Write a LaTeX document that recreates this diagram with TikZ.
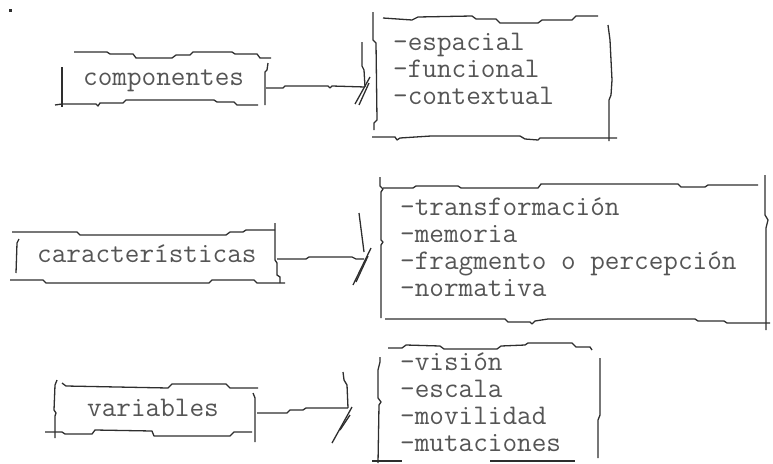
\documentclass[tikz,border=0pt]{standalone}
\usepackage{fontspec}
\definecolor{inkgray}{HTML}{2E2E2E}
\definecolor{txtgray}{HTML}{555555}

\begin{document}
\begin{tikzpicture}[
  x=1pt, y=-1pt,
  sketch/.style={inkgray, line width=1.3pt, line join=round},
  boxtext/.style={font=\ttfamily\fontsize{28.4}{27}\selectfont, text=txtgray,
    anchor=base west, inner sep=0pt},
]

% Canvas
\useasboundingbox (0,0) rectangle (773,463);
\fill[inkgray] (9,9) rectangle (12,12);

% ========================================
% Row 1: componentes
% ========================================
\node[boxtext] (comp) at (83,85) {componentes};

% Box
\draw[sketch] (74,52) -- (107,52) -- (110,54) -- (133,54) -- (136,58) -- (172,58)
  -- (176,55) -- (190,55) -- (193,52) -- (232,52) -- (235,54) -- (257,54)
  -- (260,58) -- (271,58);
\draw[sketch] (62,67) -- (62,107);
\draw[sketch] (268,63) -- (267,70) -- (265,72) -- (265,105);
\draw[sketch] (55,105) -- (62,104) -- (96,104) -- (98,106) -- (100,103) -- (123,103)
  -- (126,100) -- (214,100) -- (217,102) -- (234,102) -- (237,105) -- (258,105);

% Connector
\coordinate (comp-out) at (266,88);
\coordinate (comp-in) at (365,87);
\draw[sketch] (comp-out) -- ++(17,0) -- ++(2,-2) -- ++(43,0) -- ++(2,2) -- ++(2,-2)
  -- (comp-in);
\draw[sketch] (362,42) -- (362,66) -- (364,70) -- (comp-in);
\draw[sketch] (355,104) -- (370,77);
\draw[sketch] (359,105) -- (369,83);

% List box
\foreach \t [count=\i] in {-espacial, -funcional, -contextual}
  \node[boxtext] (comp-\i) at (393,{23+27*\i}) {\t};
\draw[sketch] (373,12) -- (373,40) -- (376,43) -- (377,120) -- (374,123) -- (374,130);
\draw[sketch] (383,18) -- (412,20) -- (418,17) -- (472,16) -- (476,19) -- (496,19)
  -- (500,23) -- (538,23) -- (542,20) -- (572,20) -- (576,16) -- (598,16);
\draw[sketch] (608,25) -- (610,40) -- (612,80) -- (611,95) -- (609,100) -- (609,141);
\draw[sketch] (372,137) -- (395,137) -- (397,140) -- (400,138) -- (431,136) -- (520,136)
  -- (525,139) -- (538,140) -- (540,138) -- (617,138);

% ========================================
% Row 2: caracteristicas
% ========================================
\node[boxtext] (carac) at (37,262) {características};

% Box
\draw[sketch] (12,232) -- (77,232) -- (80,235) -- (226,235) -- (230,232) -- (243,232)
  -- (246,230) -- (275,230);
\draw[sketch] (19,239) -- (17,243) -- (16,273);
\draw[sketch] (275,223) -- (275,260) -- (277,263) -- (277,275) -- (280,277) -- (280,283);
\draw[sketch] (10,280) -- (43,280) -- (46,283) -- (209,283) -- (212,280) -- (254,280)
  -- (257,283) -- (285,283);

% Connector
\coordinate (carac-out) at (277,259);
\coordinate (carac-in) at (364,259);
\draw[sketch] (carac-out) -- ++(29,0) -- ++(3,-2) -- ++(43,0) -- ++(4,2) -- (carac-in);
\draw[sketch] (359,213) -- (364,252);
\draw[sketch] (353,285) -- (371,248);
\draw[sketch] (356,282) -- (368,256);

% List box
\foreach \t [count=\i] in {-transformación, -memoria, -fragmento o percepción, -normativa}
  \node[boxtext] (carac-\i) at (400,{188+27*\i}) {\t};
\draw[sketch] (380,177) -- (380,186) -- (383,189) -- (381,192) -- (381,240) -- (383,242)
  -- (381,245) -- (381,318);
\draw[sketch] (383,188) -- (413,188) -- (416,186) -- (458,186) -- (461,188) -- (538,188)
  -- (541,184) -- (678,184) -- (681,187) -- (705,187) -- (708,185) -- (758,185);
\draw[sketch] (765,175) -- (765,215) -- (768,220) -- (766,228) -- (766,330);
\draw[sketch] (385,319) -- (505,319) -- (508,322) -- (530,322) -- (532,324) -- (535,321)
  -- (548,319) -- (695,319) -- (698,321) -- (724,321) -- (727,323) -- (770,323);

% ========================================
% Row 3: variables
% ========================================
\node[boxtext] (vari) at (87,416) {variables};

% Box
\draw[sketch] (62,383) -- (66,386) -- (168,388) -- (172,384) -- (226,384) -- (230,388)
  -- (258,388);
\draw[sketch] (57,380) -- (55,385) -- (54,410) -- (56,413) -- (55,416) -- (55,438);
\draw[sketch] (253,393) -- (255,398) -- (255,442);
\draw[sketch] (45,432) -- (62,432) -- (65,434) -- (92,434) -- (95,430) -- (152,431)
  -- (154,436) -- (230,436) -- (234,432) -- (252,432);

% Connector
\coordinate (vari-out) at (257,413);
\coordinate (vari-in) at (348,408);
\draw[sketch] (vari-out) -- ++(30,0) -- ++(3,-3) -- ++(13,0) -- ++(3,-2) -- (vari-in);
\draw[sketch] (343,372) -- (344,380) -- (347,385) -- (vari-in);
\draw[sketch] (332,443) -- (352,407);
\draw[sketch] (340,430) -- (350,415);

% List box
\foreach \t [count=\i] in {-visión, -escala, -movilidad, -mutaciones}
  \node[boxtext] (vari-\i) at (400,{343+27*\i}) {\t};
\draw[sketch] (388,348) -- (402,348) -- (406,345) -- (440,346) -- (444,349) -- (497,349)
  -- (501,346) -- (525,345) -- (528,343) -- (572,343) -- (576,347) -- (590,347)
  -- (592,350);
\draw[sketch] (380,357) -- (380,362) -- (378,370) -- (378,398) -- (381,402) -- (379,405)
  -- (378,463);
\draw[sketch] (600,358) -- (600,415) -- (598,420) -- (598,458);
\draw[sketch] (372,461) -- (402,461);
\draw[sketch] (490,461) -- (575,461);

\end{tikzpicture}
\end{document}
